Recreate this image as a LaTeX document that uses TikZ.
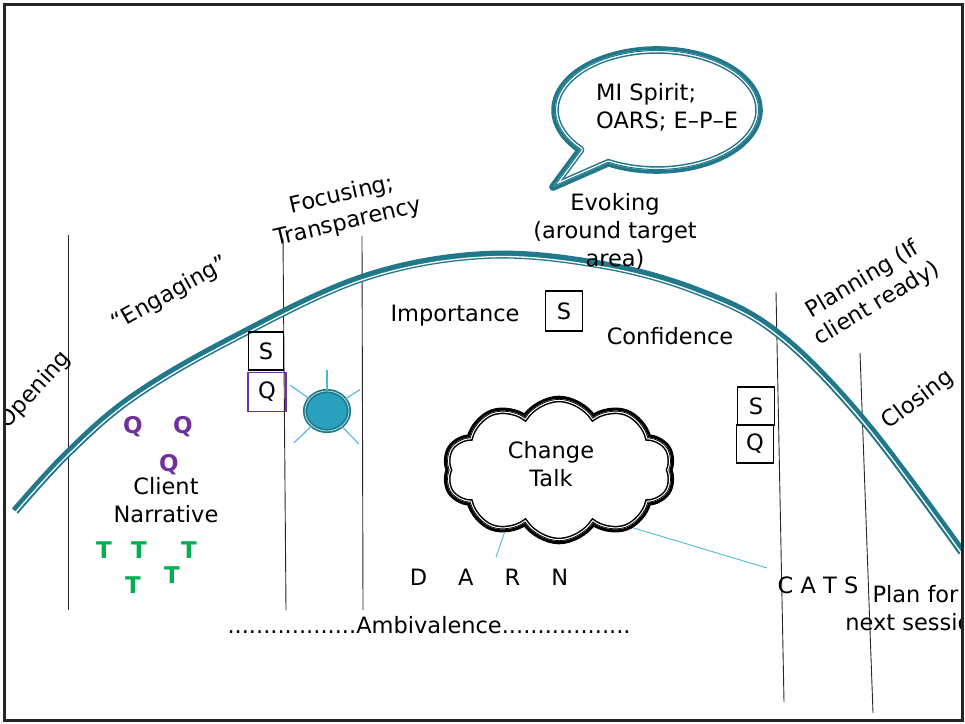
\documentclass[tikz,border=0pt]{standalone}
\usepackage{fontspec}
\setmainfont{DejaVu Sans}
\usepackage{tikz}
\usetikzlibrary{calc}
\usetikzlibrary{shapes.geometric,shapes.symbols}
\usepackage{xcolor}

\definecolor{stageteal}{RGB}{32,120,138}
\definecolor{blobblue}{RGB}{40,160,190}
\definecolor{rayblue}{RGB}{78,184,212}
\definecolor{qpurple}{RGB}{112,48,160}
\definecolor{tgreen}{RGB}{0,176,80}

\begin{document}
\begin{tikzpicture}[x=1pt,y=1pt,
		lbl/.style={font=\fontsize{22.5}{28}\selectfont, inner sep=0pt, align=center},
		letterbox/.style={lbl, draw, line width=1.4pt, minimum width=37pt, minimum height=39pt},
		qmark/.style={lbl, font=\fontsize{23}{28}\selectfont\bfseries, text=qpurple},
		tmark/.style={lbl, font=\fontsize{23}{28}\selectfont\bfseries, text=tgreen},
		divider/.style={black!85, line width=0.9pt},
		ray/.style={rayblue, line width=1.1pt},
		link/.style={rayblue, line width=0.9pt},
		talkcloud/.style={cloud, cloud puffs=10, cloud puff arc=115, aspect=1.6,
			minimum width=228pt, minimum height=142pt, inner sep=0pt}]
	
	\useasboundingbox (0,0) rectangle (965,723);
	
	\begin{scope}
		\clip (6,4) rectangle (961,717);
		
		% stage dividers
		\draw[divider] (68,488) -- (68,113);
		\draw[divider] (283,485) -- (286,113);
		\draw[divider] (362,487) -- (363,113);
		\draw[divider] (776,431) -- (784,21);
		\draw[divider] (860,370) -- (873,10);
		
		% session curve: thick line with a thin one under it
		\def\stagecurve{plot[smooth, tension=0.6] coordinates {(15,212) (68,270) (133,326) (230,383) (362,445) (485,468) (603,458) (700,431) (777,390) (863,303) (962,171)}}
		\draw[stageteal, line width=8pt] \stagecurve;
		\draw[white, line width=1.3pt, yshift=-2pt] \stagecurve;
		
		% stage names
		\node[lbl, rotate=48] (opening) at (35,333) {Opening};
		\node[lbl, rotate=29] (engaging) at (170,429) {“Engaging”};
		\node[lbl, rotate=13] (focusing) at (345,514) {Focusing;\\Transparency};
		\node[lbl] (evoking) at (615,492) {Evoking\\(around target\\area)};
		\node[lbl, rotate=31] (planning) at (870,431) {Planning (If\\client ready)};
		\node[lbl, rotate=37] (closing) at (918,323) {Closing};
		
		% speech bubble
		\def\bubbleshape{(657,613) ++(241.5:102 and 60) arc[start angle=241.5, end angle=581.5, x radius=102, y radius=60] -- (553,536) -- cycle}
		\fill[white] \bubbleshape;
		\draw[stageteal, line width=7.6pt, line join=round] \bubbleshape;
		\begin{scope}
			\clip \bubbleshape;
			\draw[white, line width=4.6pt, line join=round] \bubbleshape;
			\draw[stageteal, line width=2pt, line join=round] \bubbleshape;
		\end{scope}
		\node[lbl, align=left, anchor=west] (spirit) at (596,616) {MI Spirit;\\OARS; E–P–E};
		
		% evoking: importance and confidence
		\node[lbl] (importance) at (455,407) {Importance};
		\node[letterbox, minimum height=40pt] (smid) at (564,412) {S};
		\node[lbl] (confidence) at (670,387) {Confidence};
		
		% focusing boxes and the blob
		\node[letterbox, minimum width=35pt, minimum height=38pt] (sleft) at (266,372) {S};
		\node[letterbox, draw=qpurple, minimum width=38pt] (qleft) at (267,331) {Q};
		\node[ellipse, fill=blobblue, draw=stageteal, line width=1.7pt, double=rayblue!45!white,
			double distance=0.8pt, minimum width=44pt, minimum height=40pt, inner sep=0pt] (blob) at (327,312) {};
		\foreach \ang/\len in {90/20, 145/23, 33/17, 224/24, 314/24}
			\draw[ray] (blob.\ang) -- ++(\ang:\len);
		
		% planning boxes
		\node[letterbox, minimum height=38pt] (sright) at (756,317) {S};
		\node[letterbox, minimum height=38pt] (qright) at (755,279) {Q};
		
		% engaging: client narrative
		\foreach \x/\y [count=\i] in {133/296, 183/296, 169/258}
			\node[qmark] (q\i) at (\x,\y) {Q};
		\node[lbl] (client) at (166,223) {Client\\Narrative};
		\foreach \x/\y [count=\i] in {104/173, 139/173, 189/173, 133/138, 172/148}
			\node[tmark] (t\i) at (\x,\y) {T};
		
		% change talk cloud
		\coordinate (cloudc) at (559,253);
		\node[talkcloud, draw, line width=6.6pt] (cloud) at (cloudc) {};
		\node[talkcloud, fill=white, path picture={
				\node[talkcloud, draw, line width=6.6pt] at (cloudc) {};
				\node[talkcloud, draw=white, line width=3.6pt] at (cloudc) {};
				\node[talkcloud, draw, line width=1.4pt] at (cloudc) {};
			}] (cloudin) at (cloudc) {};
		\node[lbl] (talk) at (551,259) {Change\\Talk};
		
		% DARN and CATS
		\node[lbl] (darn) at (489,146) {D\hspace{31pt}A\hspace{31pt}R\hspace{31pt}N};
		\node[lbl] (cats) at (818,138) {C A T S};
		\coordinate (darnend) at (496,166);
		\coordinate (catsend) at (767,155);
		\draw[link] (cloud.229) -- (darnend);
		\draw[link] (cloud.322) -- (catsend);
		
		% closing and ambivalence
		\node[lbl] (nextplan) at (915.5,114.5) {Plan for\\next session};
		\node[lbl] (ambivalence) at (429,98) {..................Ambivalence..................};
	\end{scope}
	
	% frame
	\draw[black!85, line width=3pt] (4.5,2.5) rectangle (962.5,718.5);
	
\end{tikzpicture}
\end{document}
